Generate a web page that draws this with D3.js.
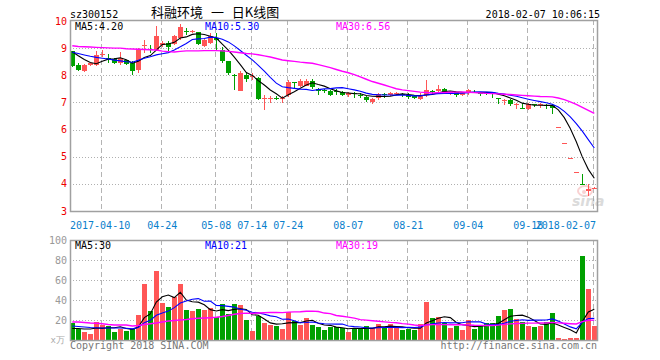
<!DOCTYPE html>
<html><head><meta charset="utf-8">
<script src="https://cdn.jsdelivr.net/npm/d3@7"></script>
<style>body{margin:0;background:#fff}</style>
</head><body><svg id="c" width="660" height="360"></svg>
<script>
// ---------- data ----------
const stockCode = "sz300152";
const titleText = "科融环境 一 日K线图";
const stampText = "2018-02-07 10:06:15";
const tickIndex = [5, 15, 24, 30, 36, 46, 56, 66, 76, 87];
const tickLabels = ["2017-04-10","04-24","05-08","07-14","07-24","08-07","08-21","09-04","09-18","2018-02-07"];
const openP  = [8.88,8.39,8.14,8.37,8.39,8.76,8.62,8.61,8.45,8.55,8.47,8.20,9.10,8.98,8.94,9.12,9.18,9.16,9.37,9.64,9.58,9.58,9.09,9.18,9.38,8.94,8.51,8.02,7.43,8.02,7.93,7.90,7.14,7.15,7.18,7.14,7.27,7.74,7.60,7.61,7.79,7.51,7.44,7.41,7.42,7.38,7.29,7.34,7.28,7.21,7.02,7.15,7.30,7.26,7.32,7.31,7.28,7.23,7.11,7.26,7.43,7.41,7.49,7.36,7.37,7.27,7.35,7.40,7.36,7.34,7.33,7.15,7.07,7.09,6.91,6.79,6.76,6.93,6.91,6.91,6.90,6.10,5.49,4.94,4.45,4.00,3.72,3.82];
const highP  = [8.90,8.44,8.41,8.47,8.91,8.94,8.79,8.63,8.84,8.58,8.51,9.00,9.30,9.12,9.82,9.25,9.28,9.49,9.89,9.74,9.68,9.60,9.33,9.55,9.55,9.06,8.53,8.03,8.14,8.08,8.08,7.94,7.28,7.22,7.25,7.25,7.84,7.76,7.88,7.88,7.88,7.54,7.48,7.45,7.48,7.43,7.37,7.37,7.34,7.24,7.15,7.35,7.35,7.37,7.37,7.35,7.33,7.28,7.33,7.82,7.45,7.63,7.55,7.39,7.38,7.35,7.48,7.44,7.37,7.36,7.34,7.18,7.12,7.12,6.99,6.97,6.97,6.95,6.97,6.94,6.94,6.10,5.49,4.94,4.45,4.37,4.01,3.90];
const lowP   = [8.29,8.16,8.11,8.35,8.35,8.69,8.45,8.42,8.39,8.38,8.00,8.10,8.82,8.82,8.88,9.05,8.88,9.12,9.31,9.50,9.55,9.12,9.06,9.15,8.95,8.45,8.02,7.44,7.41,7.77,7.84,7.10,6.73,6.98,7.08,6.98,7.20,7.48,7.57,7.59,7.51,7.29,7.33,7.23,7.27,7.23,7.21,7.18,7.15,7.03,6.96,7.09,7.15,7.23,7.29,7.21,7.11,7.11,7.09,7.21,7.27,7.37,7.33,7.29,7.21,7.25,7.27,7.33,7.24,7.28,7.15,6.96,6.90,6.87,6.74,6.76,6.73,6.85,6.78,6.76,6.56,6.10,5.49,4.94,4.45,3.99,3.55,3.80];
const closeP = [8.35,8.20,8.39,8.44,8.75,8.79,8.60,8.45,8.63,8.41,8.14,8.97,9.13,8.97,9.43,9.18,9.04,9.45,9.77,9.63,9.64,9.16,9.31,9.45,9.30,8.51,8.08,7.99,8.08,7.86,7.96,7.13,7.17,7.17,7.16,7.16,7.76,7.73,7.79,7.78,7.57,7.43,7.43,7.29,7.41,7.27,7.33,7.33,7.27,7.09,7.11,7.32,7.29,7.34,7.33,7.30,7.21,7.15,7.26,7.45,7.42,7.49,7.37,7.37,7.29,7.35,7.45,7.39,7.35,7.33,7.32,7.14,7.09,6.93,6.93,6.78,6.93,6.92,6.93,6.90,6.78,6.10,5.49,4.94,4.45,3.99,3.80,3.85];
const volume = [17.3,10.7,8.3,6,18,15,14,8.3,10.7,9.3,11,25,56,29,69,37.3,33.3,43.3,56,30,29,31,30,31.7,23.3,36,26,36,34.7,20,9.3,24,17.3,15,14,11.3,28,18.7,15,21.7,15,13.3,10,13.3,12.7,12.3,8.3,12.3,11.7,14,11.7,15.7,12.3,15.7,12.3,10,11,10,15.7,38,22,23,17.3,11.7,14,10,20,11,14,16.7,16.7,24,30,31,21,18.3,14,12.7,14,18.3,27.3,2.3,1,2.3,2.3,84,51,14];
// moving-average values before a full window exists
const ma5PriceHead  = [8.87,8.72,8.58,8.47];
const ma10PriceHead = [8.85,8.80,8.75,8.70,8.66,8.63,8.60,8.56,8.53];
const ma30PriceHead = [9.09,9.06,9.05,9.04,9.03,9.02,9.01,9.00,9.00,8.98,8.97,8.96,8.95,8.94,8.93,8.89,8.87,8.86,8.88,8.90,8.90,8.90,8.91,8.91,8.91,8.90,8.88,8.86,8.83];
const ma5VolHead  = [11.5,11.5,11,11];
const ma10VolHead = [14,13.5,13,12.5,12.3,12,12,12,12];
const ma30VolHead = [18,18,17.5,17,16.7,16.3,15.5,15,15,15,14,14.5,15.5,16.3,17,18,19,19.5,20,20.5,21.3,21.7,22,22.3,22.7,23.5,24.5,25.7,26.5];
const priceTicks = [3,4,5,6,7,8,9,10];
const volTicks = [20,40,60,80,100];
const priceLegend = ["MA5:4.20","MA10:5.30","MA30:6.56"];
const volLegend = ["MA5:30","MA10:21","MA30:19"];
const unitLabel = "x万";
const footerLeft = "Copyright 2018 SINA.COM";
const footerRight = "http://finance.sina.com.cn";

// ---------- drawing ----------
const RED = "#ff5656", GREEN = "#00a000";
const MA_COLORS = ["#000000","#0000ff","#ff00ff"];
const MONO = "'DejaVu Sans Mono', monospace";
const svg = d3.select("#c");
const L = 70, R = 597;
const idx = d3.range(closeP.length);
const x = d3.scaleLinear().domain([0, closeP.length - 1]).range([72.3, 594.3]);
const yP = d3.scaleLinear().domain([3, 10]).range([211, 21]);
const yV = d3.scaleLinear().domain([0, 100]).range([340, 240]);

function movingAvg(arr, n, head) {
  return arr.map((v, i) => i < n - 1 ? head[i] : d3.mean(arr.slice(i - n + 1, i + 1)));
}
const pMA = [movingAvg(closeP,5,ma5PriceHead), movingAvg(closeP,10,ma10PriceHead), movingAvg(closeP,30,ma30PriceHead)];
const vMA = [movingAvg(volume,5,ma5VolHead), movingAvg(volume,10,ma10VolHead), movingAvg(volume,30,ma30VolHead)];

svg.append("defs").selectAll("clipPath").data([["cp",20,191],["cv",240,100]]).join("clipPath")
  .attr("id", d => d[0]).append("rect").attr("x", L).attr("y", d => d[1]).attr("width", R - L).attr("height", d => d[2]);

// header
svg.append("text").attr("x", 70).attr("y", 18).attr("font-family", MONO).attr("font-size", 10).text(stockCode);
svg.append("text").attr("x", 151).attr("y", 17).attr("font-family", "'Noto Sans CJK SC', sans-serif").attr("font-size", 13)
  .attr("word-spacing", 5).text(titleText);
svg.append("text").attr("x", 600).attr("y", 18).attr("text-anchor", "end").attr("font-family", MONO).attr("font-size", 10).text(stampText);

function panel(y, ticks, gridVals, labelColor, top, bottom) {
  const g = svg.append("g");
  g.selectAll(".h").data(gridVals).join("line")
    .attr("x1", L).attr("x2", R).attr("y1", d => Math.round(y(d)) + 0.5).attr("y2", d => Math.round(y(d)) + 0.5)
    .attr("stroke", "#b0b0b0").attr("stroke-dasharray", "1,2");
  g.selectAll(".v").data(tickIndex).join("line")
    .attr("x1", d => Math.round(x(d)) - 0.5).attr("x2", d => Math.round(x(d)) - 0.5)
    .attr("y1", top).attr("y2", bottom)
    .attr("stroke", "#b4b4b4").attr("stroke-dasharray", "5,3");
  g.selectAll(".yl").data(ticks).join("text")
    .attr("x", 67).attr("y", d => y(d)).attr("dy", "0.35em").attr("text-anchor", "end")
    .attr("font-family", MONO).attr("font-size", 10).attr("fill", labelColor).text(d => d);
  return g;
}
panel(yP, priceTicks, [4,5,6,7,8,9], "#ee0000", 20, 211);
panel(yV, volTicks, [20,40,60,80], "#999999", 240, 340);

// x labels
svg.selectAll(".xl").data(tickIndex).join("text")
  .attr("x", (d, i) => i === 0 ? L : (i === tickIndex.length - 1 ? 596 : x(d)))
  .attr("y", 229)
  .attr("text-anchor", (d, i) => i === 0 ? "start" : (i === tickIndex.length - 1 ? "end" : "middle"))
  .attr("font-family", MONO).attr("font-size", 10).attr("fill", "#0a80cc")
  .text((d, i) => tickLabels[i]);

// watermark
const wm = svg.append("g").attr("opacity", 0.35);
wm.append("ellipse").attr("cx", 585).attr("cy", 191).attr("rx", 7).attr("ry", 5).attr("fill", "none").attr("stroke", "#f08080").attr("stroke-width", 2);
wm.append("circle").attr("cx", 584).attr("cy", 192).attr("r", 2).attr("fill", "#f08080");
wm.append("text").attr("x", 572).attr("y", 206).attr("font-family", "'DejaVu Sans', sans-serif").attr("font-style", "italic")
  .attr("font-weight", "bold").attr("font-size", 14).attr("fill", "#999").text("sina");

// candles
const cg = svg.append("g").attr("clip-path", "url(#cp)").attr("shape-rendering", "crispEdges");
const colorOf = i => closeP[i] >= openP[i] ? RED : GREEN;
cg.selectAll(".w").data(idx).join("line")
  .attr("x1", i => Math.round(x(i)) + 0.5).attr("x2", i => Math.round(x(i)) + 0.5)
  .attr("y1", i => yP(highP[i])).attr("y2", i => yP(lowP[i]))
  .attr("stroke", colorOf);
cg.selectAll(".b").data(idx).join("rect")
  .attr("x", i => Math.round(x(i)) - 2).attr("width", 5)
  .attr("y", i => yP(Math.max(openP[i], closeP[i])))
  .attr("height", i => Math.max(1, Math.abs(yP(openP[i]) - yP(closeP[i]))))
  .attr("fill", colorOf);

const line = (y) => d3.line().x((d, i) => x(i)).y(d => y(d));
const lg = svg.append("g").attr("clip-path", "url(#cp)");
pMA.forEach((arr, k) => lg.append("path").attr("d", line(yP)(arr)).attr("fill", "none")
  .attr("stroke", MA_COLORS[k]).attr("stroke-width", k === 2 ? 1.4 : 1.1));

// volume bars
const vg = svg.append("g").attr("clip-path", "url(#cv)").attr("shape-rendering", "crispEdges");
vg.selectAll("rect").data(idx).join("rect")
  .attr("x", i => Math.round(x(i)) - 2).attr("width", 5)
  .attr("y", i => yV(volume[i])).attr("height", i => yV(0) - yV(volume[i]))
  .attr("fill", colorOf);
const vl = svg.append("g").attr("clip-path", "url(#cv)");
vMA.forEach((arr, k) => vl.append("path").attr("d", line(yV)(arr)).attr("fill", "none")
  .attr("stroke", MA_COLORS[k]).attr("stroke-width", k === 2 ? 1.4 : 1.1));

// frames
[[20,191],[240,100]].forEach(([t,h]) => svg.append("rect").attr("x", L + 0.5).attr("y", t + 0.5)
  .attr("width", R - L).attr("height", h).attr("fill", "none").attr("stroke", "#a0a0a0").attr("stroke-width", 1.5));

// legends
const legX = [75, 205, 336];
[[priceLegend, 30], [volLegend, 249]].forEach(([arr, yy]) => {
  svg.selectAll(null).data(arr).join("text").attr("x", (d, i) => legX[i]).attr("y", yy)
    .attr("font-family", MONO).attr("font-size", 10).attr("fill", (d, i) => MA_COLORS[i]).text(d => d);
});

// unit + footer
svg.append("text").attr("x", 65).attr("y", 343).attr("text-anchor", "end").attr("font-family", MONO)
  .attr("font-size", 9).attr("fill", "#aaa").text(unitLabel);
svg.append("text").attr("x", 70).attr("y", 349).attr("font-family", MONO).attr("font-size", 10).attr("fill", "#777").text(footerLeft);
svg.append("text").attr("x", 597).attr("y", 349).attr("text-anchor", "end").attr("font-family", MONO).attr("font-size", 10).attr("fill", "#777").text(footerRight);
</script></body></html>
